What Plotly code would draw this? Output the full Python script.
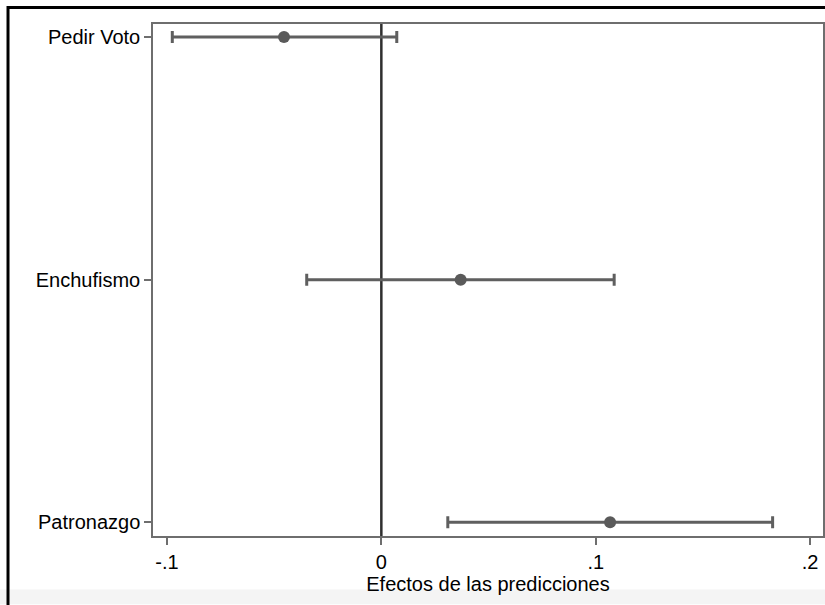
import plotly.graph_objects as go

categories = ["Pedir Voto", "Enchufismo", "Patronazgo"]
estimates = [-0.0454, 0.0370, 0.1067]
ci_low = [-0.0975, -0.0348, 0.0310]
ci_high = [0.0072, 0.1086, 0.1825]
x_tickvals = [-0.1, 0.0, 0.1, 0.2]
x_ticktext = ["-.1", "0", ".1", ".2"]
x_title = "Efectos de las predicciones"

ypos = [1, 2, 3]
err_plus = [h - e for h, e in zip(ci_high, estimates)]
err_minus = [e - l for e, l in zip(estimates, ci_low)]

FONT = "Liberation Sans, Arial, sans-serif"

fig = go.Figure()
fig.add_trace(go.Scatter(
    x=estimates, y=ypos, mode="markers",
    marker=dict(color="#5a5a5a", size=12),
    error_x=dict(type="data", symmetric=False, array=err_plus, arrayminus=err_minus,
                 color="#5f5f5f", thickness=3, width=6),
    showlegend=False, hoverinfo="skip",
))

fig.add_shape(type="line", xref="x", yref="paper", x0=0, x1=0, y0=0, y1=1,
              line=dict(color="#2f2f2f", width=2.5), layer="below")

# outer frame of the screenshot
fig.add_shape(type="rect", xref="paper", yref="paper", x0=-0.25, x1=1.01,
              y0=-0.1335, y1=-0.1043, fillcolor="#f4f4f4", line=dict(width=0), layer="below")
fig.add_shape(type="line", xref="paper", yref="paper", x0=-0.2164, x1=-0.2164,
              y0=1.035, y1=-0.14, line=dict(color="black", width=3))
fig.add_shape(type="line", xref="paper", yref="paper", x0=-0.2164, x1=1.01,
              y0=1.032, y1=1.032, line=dict(color="black", width=3))

fig.update_xaxes(range=[-0.1065, 0.206], tickvals=x_tickvals, ticktext=x_ticktext,
                 showgrid=False, zeroline=False, showline=True, mirror=True,
                 linecolor="#6e6e6e", linewidth=1.5, ticks="outside", ticklen=7,
                 tickcolor="#6e6e6e", tickwidth=1.5,
                 tickfont=dict(family=FONT, size=20, color="black"),
                 title=dict(text=x_title, standoff=2,
                            font=dict(family=FONT, size=20, color="black")))
fig.update_yaxes(range=[3.057, 0.946], tickvals=ypos, ticktext=categories,
                 showgrid=False, zeroline=False, showline=True, mirror=True,
                 linecolor="#6e6e6e", linewidth=1.5, ticks="outside", ticklen=7,
                 tickcolor="#6e6e6e", tickwidth=1.5, automargin=False,
                 tickfont=dict(family=FONT, size=20, color="black"))

fig.update_layout(width=825, height=605, margin=dict(l=153, r=2, t=23.5, b=68.5, autoexpand=False),
                  paper_bgcolor="white", plot_bgcolor="white")

fig.write_html("out.html", config={"displayModeBar": False},
               post_script="document.body.style.margin='0px';document.body.style.overflow='hidden';")
